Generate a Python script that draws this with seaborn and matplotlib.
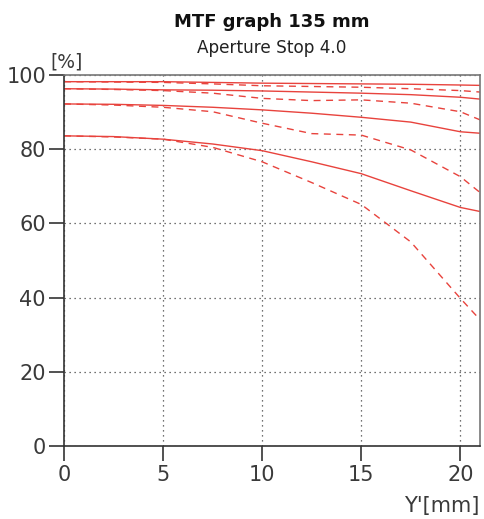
import numpy as np
import pandas as pd
import matplotlib
matplotlib.use("Agg")
import matplotlib.pyplot as plt
import seaborn as sb

# image height in mm
y_mm = [0, 2.5, 5, 7.5, 10, 12.5, 15, 17.5, 20, 21]

# contrast values [%], solid = sagittal, dashed = tangential
s1 = [98.2, 98.2, 98.2, 98.0, 97.8, 97.7, 97.6, 97.5, 97.3, 97.2]
t1 = [98.2, 98.1, 98.0, 97.6, 97.1, 96.9, 96.7, 96.3, 95.8, 95.4]
s2 = [96.3, 96.2, 96.0, 95.9, 95.7, 95.4, 95.1, 94.7, 94.0, 93.5]
t2 = [96.3, 96.1, 95.8, 95.1, 93.7, 93.1, 93.3, 92.4, 90.1, 87.9]
s3 = [92.2, 92.1, 91.8, 91.3, 90.6, 89.7, 88.6, 87.3, 84.7, 84.3]
t3 = [92.2, 91.9, 91.3, 90.1, 87.0, 84.2, 83.8, 79.8, 72.6, 68.3]
s4 = [83.6, 83.4, 82.7, 81.4, 79.6, 76.6, 73.4, 68.8, 64.3, 63.2]
t4 = [83.6, 83.3, 82.7, 80.5, 76.6, 71.0, 65.1, 55.0, 39.8, 34.0]

series = {"s1": s1, "t1": t1, "s2": s2, "t2": t2,
          "s3": s3, "t3": t3, "s4": s4, "t4": t4}

rows = []
for name, vals in series.items():
    for x, v in zip(y_mm, vals):
        rows.append({"y_mm": x, "mtf": v, "curve": name})
df = pd.DataFrame(rows)

sb.set_style("white")
plt.rcParams["font.family"] = ["DejaVu Sans"]

red = "#e8433d"
fig = plt.figure(figsize=(4.85, 5.19), dpi=100)
ax = fig.add_axes([0.132, 0.1407, 0.858, 0.7148])

for name in series:
    sub = df[df["curve"] == name]
    if name[0] == "t":
        sb.lineplot(data=sub, x="y_mm", y="mtf", ax=ax, color=red, lw=1.0,
                    linestyle=(0, (5, 4)))
    else:
        sb.lineplot(data=sub, x="y_mm", y="mtf", ax=ax, color=red, lw=1.0)

ax.set_xlim(0, 21)
ax.set_ylim(0, 100)
ax.set_xticks([0, 5, 10, 15, 20])
ax.set_yticks([0, 20, 40, 60, 80, 100])
ax.set_xlabel("")
ax.set_ylabel("")
ax.grid(True, linestyle=(0, (1, 3)), color="#444444", lw=0.9)
ax.tick_params(axis="both", direction="out", length=11, width=1.2,
               color="#333333", labelsize=15, labelcolor="#3a3a3a",
               bottom=True, left=True, pad=2)
ax.tick_params(axis="x", pad=3)
for side in ["left", "bottom"]:
    ax.spines[side].set_color("#333333")
    ax.spines[side].set_linewidth(1.2)
for side in ["top", "right"]:
    ax.spines[side].set_color("#777777")
    ax.spines[side].set_linewidth(1.2)

fig.text(0.561, 0.958, "MTF graph 135 mm", ha="center", va="center",
         fontsize=13, fontweight="bold", color="#111111")
fig.text(0.561, 0.908, "Aperture Stop 4.0", ha="center", va="center",
         fontsize=12.2, color="#222222")
fig.text(0.103, 0.880, "[%]", ha="left", va="center", fontsize=13.5,
         color="#3a3a3a")
fig.text(0.988, 0.025, "Y'[mm]", ha="right", va="center", fontsize=15,
         color="#3a3a3a")

fig.savefig("out.png", dpi=100)
